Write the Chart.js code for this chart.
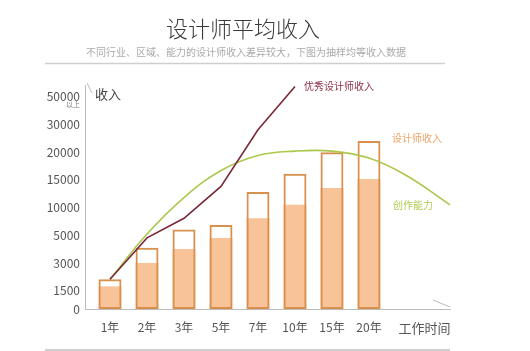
<!DOCTYPE html>
<html><head><meta charset="utf-8">
<script src="https://cdn.jsdelivr.net/npm/chart.js@4/dist/chart.umd.min.js"></script>
<style>html,body{margin:0;padding:0;background:#fff;}canvas{display:block;}</style>
</head><body>
<canvas id="c" width="530" height="351"></canvas>
<script>
// ---- data ----
const categories = ['1年','2年','3年','5年','7年','10年','15年','20年'];
const xAxisTitle = '工作时间';
const yTickValues = [0,1500,3000,5000,10000,15000,20000,30000,50000];
const yTickLabels = ['0','1500','3000','5000','10000','15000','20000','30000','50000'];
const designerIncome = [2100,4100,6000,6800,12700,16000,20000,24000];   // full (outlined) bar
const designerBase   = [1700,3000,4000,4800,8000,10400,13400,15000];    // filled part
const topDesignerIncome = [2100,4800,8000,13700,28000,57000];           // 1年 .. 10年
const abilitySlots  = [0,1,2,3,4,5,6,7,8,9.19];
const abilityValues = [2100,5200,11700,16600,19400,20400,20400,18900,15700,10400];

// non-uniform income axis: slot of each tick on the value axis
const yTickSlots = [0,0.68,1.64,2.64,3.64,4.64,5.6,6.6,7.6];
function pos(v){
  for(let i=1;i<yTickValues.length;i++){
    if(v<=yTickValues[i] || i===yTickValues.length-1){
      const a=yTickValues[i-1], b=yTickValues[i];
      return yTickSlots[i-1] + (v-a)/(b-a)*(yTickSlots[i]-yTickSlots[i-1]);
    }
  }
}

const FONT = '"Noto Sans CJK SC","Noto Sans",sans-serif';
Chart.defaults.font.family = FONT;

const deco = {
  id:'deco',
  afterDraw(chart){
    const ctx = chart.ctx, ca = chart.chartArea;
    ctx.save();
    ctx.textBaseline = 'middle';
    // title
    ctx.fillStyle = '#3a3a3a';
    ctx.font = '300 22px ' + FONT;
    ctx.textAlign = 'center';
    ctx.fillText('设计师平均收入', 243, 29);
    ctx.fillStyle = '#aaa';
    ctx.font = '10px ' + FONT;
    ctx.fillText('不同行业、区域、能力的设计师收入差异较大，下图为抽样均等收入数据', 246, 52);
    // separators
    ctx.strokeStyle = '#cfcfcf';
    ctx.lineWidth = 1.5;
    ctx.beginPath(); ctx.moveTo(45,63.5); ctx.lineTo(445,63.5); ctx.stroke();
    ctx.lineWidth = 2;
    ctx.beginPath(); ctx.moveTo(45,350); ctx.lineTo(450,350); ctx.stroke();
    // axis break marks
    ctx.strokeStyle = '#bbb';
    ctx.lineWidth = 1;
    ctx.beginPath(); ctx.moveTo(ca.left+2, ca.top-2); ctx.lineTo(ca.left+7, ca.top+8); ctx.stroke();
    ctx.beginPath(); ctx.moveTo(ca.right-17, ca.bottom-9); ctx.lineTo(ca.right, ca.bottom-2); ctx.stroke();
    // y axis title and "以上"
    ctx.fillStyle = '#444';
    ctx.font = '13px ' + FONT;
    ctx.textAlign = 'left';
    ctx.fillText('收入', ca.left+10, 94);
    ctx.fillStyle = '#777';
    ctx.font = '7px ' + FONT;
    ctx.textAlign = 'right';
    ctx.fillText('以上', 80, 104);
    // series labels
    const red = chart.getDatasetMeta(0).data;
    const last = red[red.length-1];
    ctx.textAlign = 'left';
    ctx.font = '10px ' + FONT;
    ctx.fillStyle = '#8e2f45';
    ctx.fillText('优秀设计师收入', last.x + 9, last.y);
    ctx.fillStyle = '#eea466';
    ctx.fillText('设计师收入', 392, 138);
    ctx.fillStyle = '#afcb55';
    ctx.fillText('创作能力', 393, 205);
    ctx.restore();
  }
};

new Chart(document.getElementById('c'), {
  type:'bar',
  data:{
    datasets:[
      {type:'line', label:'优秀设计师收入', data: topDesignerIncome.map((v,i)=>({x:i,y:pos(v)})),
       borderColor:'#7a2838', borderWidth:1.6, pointRadius:0, tension:0, order:0, clip:false},
      {type:'line', label:'创作能力', data: abilitySlots.map((x,i)=>({x:x,y:pos(abilityValues[i])})),
       borderColor:'#aac84c', borderWidth:1.6, pointRadius:0, tension:0.4, order:1, clip:false},
      {type:'bar', label:'设计师收入', data: designerIncome.map((v,i)=>({x:i,y:pos(v)})),
       backgroundColor:'rgba(0,0,0,0)', borderColor:'#d8904f', borderWidth:2, borderSkipped:false,
       grouped:false, barPercentage:0.62, categoryPercentage:1, order:2},
      {type:'bar', label:'base', data: designerBase.map((v,i)=>({x:i,y:pos(v)})),
       backgroundColor:'#f8c398', borderWidth:0, grouped:false, barPercentage:0.62, categoryPercentage:1, order:3}
    ]
  },
  options:{
    responsive:false, animation:false, devicePixelRatio:1,
    layout:{padding:{top:85,right:80,left:0,bottom:0}},
    plugins:{legend:{display:false}, tooltip:{enabled:false}, title:{display:false}},
    scales:{
      x:{type:'linear', min:-0.676, max:9.19, offset:false,
         grid:{display:false, drawTicks:false, offset:false},
         border:{display:true, color:'#bbb', width:1},
         afterBuildTicks:(s)=>{ s.ticks = categories.map((c,i)=>({value:i})).concat([{value:8.5}]); },
         afterFit:(s)=>{ s.height = 42; },
         ticks:{autoSkip:false, maxRotation:0, padding:11, color:'#555',
           font:(c)=> ({size: c.index===categories.length ? 13 : 12, family:FONT}),
           callback:(v,i)=> i<categories.length ? categories[i] : xAxisTitle}
      },
      y:{type:'linear', min:0, max:8,
         grid:{display:false, drawTicks:false},
         border:{display:true, color:'#bbb', width:1},
         afterBuildTicks:(s)=>{ s.ticks = yTickSlots.map(v=>({value:v})); },
         afterFit:(s)=>{ s.width = 85; },
         ticks:{autoSkip:false, padding:5, color:'#555', font:{size:12, family:FONT},
           callback:(v,i)=> yTickLabels[i]}
      }
    }
  },
  plugins:[deco]
});
</script>
</body></html>
